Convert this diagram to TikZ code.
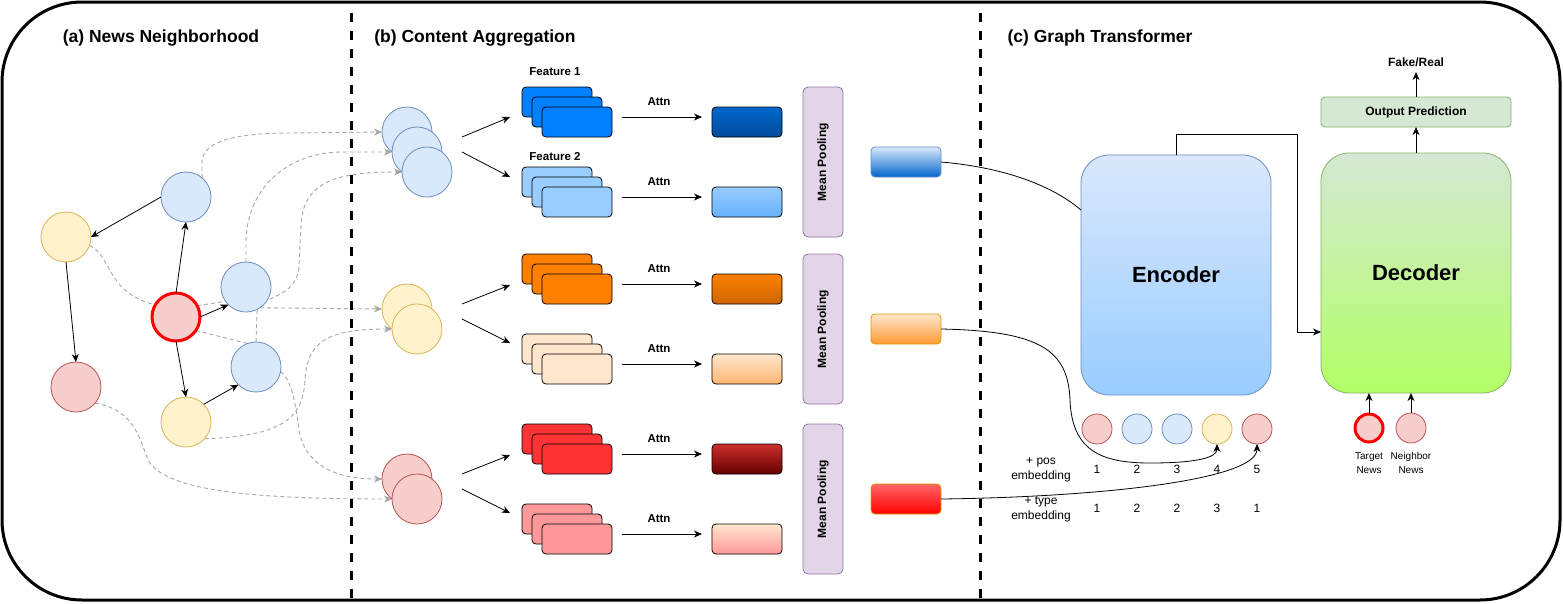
\documentclass[tikz,border=0pt]{standalone}
\usepackage{fontspec}
\setmainfont{Liberation Sans}
\usetikzlibrary{arrows.meta,backgrounds}
\definecolor{bfill}{HTML}{DAE8FC}
\definecolor{bdraw}{HTML}{6C8EBF}
\definecolor{yfill}{HTML}{FFF2CC}
\definecolor{ydraw}{HTML}{D6B656}
\definecolor{rfill}{HTML}{F8CECC}
\definecolor{rdraw}{HTML}{B85450}
\definecolor{pfill}{HTML}{E1D5E7}
\definecolor{pdraw}{HTML}{9673A6}
\definecolor{gfill}{HTML}{D5E8D4}
\definecolor{gdraw}{HTML}{82B366}
\definecolor{dgray}{HTML}{A6A6A6}
\definecolor{sa}{HTML}{007FFF}
\definecolor{sb}{HTML}{99CCFF}
\definecolor{sc}{HTML}{FF8000}
\definecolor{sd}{HTML}{FFE6CC}
\definecolor{se}{HTML}{FF3333}
\definecolor{sf}{HTML}{FF9999}
\definecolor{oat}{HTML}{0066CC}\definecolor{oab}{HTML}{004C99}
\definecolor{obt}{HTML}{99CCFF}\definecolor{obb}{HTML}{66B2FF}
\definecolor{oct}{HTML}{FF8000}\definecolor{ocb}{HTML}{CC6600}
\definecolor{odt}{HTML}{FFE6CC}\definecolor{odb}{HTML}{FFB570}
\definecolor{oet}{HTML}{CC2E2E}\definecolor{oeb}{HTML}{660000}
\definecolor{oft}{HTML}{FFE6CC}\definecolor{ofb}{HTML}{FF9999}
\definecolor{pat}{HTML}{DAE8FC}\definecolor{pab}{HTML}{0066CC}
\definecolor{pbt}{HTML}{FFE6CC}\definecolor{pbb}{HTML}{FF9933}
\definecolor{pct}{HTML}{FF6666}\definecolor{pcb}{HTML}{FF0000}
\definecolor{pbd}{HTML}{D79B00}
\definecolor{enct}{HTML}{DAE8FC}\definecolor{encb}{HTML}{99CCFF}
\definecolor{dect}{HTML}{D5E8D4}\definecolor{decb}{HTML}{B3FF66}
\newcommand{\mkstack}[4]{%
  \node[stackbox, fill=#4] (#1a) at (#2,#3) {};
  \node[stackbox, fill=#4] (#1b) at ([shift={(10,10)}]#1a.center) {};
  \node[stackbox, fill=#4] (#1c) at ([shift={(10,10)}]#1b.center) {};
}
\begin{document}
\begin{tikzpicture}[x=1pt,y=-1pt,
  every node/.style={inner sep=0pt, outer sep=0pt},
  circ/.style={circle, minimum size=50pt, line width=0.8pt},
  bn/.style={circ, fill=bfill, draw=bdraw},
  yn/.style={circ, fill=yfill, draw=ydraw},
  rn/.style={circ, fill=rfill, draw=rdraw},
  tgt/.style={circle, minimum size=48pt, fill=rfill, draw=red, line width=3pt},
  tok/.style={circle, minimum size=30pt, line width=0.8pt},
  arr/.style={-{Stealth[length=8pt,width=7pt,inset=2.5pt]}, line width=0.8pt},
  dsh/.style={draw=dgray, dash pattern=on 4pt off 3pt, line width=0.9pt},
  dsharr/.style={dsh, -{Stealth[length=8pt,width=7pt,inset=2.5pt,fill=dgray]}},
  stackbox/.style={rectangle, rounded corners=4pt, minimum width=70pt, minimum height=30pt, draw=black, line width=0.8pt},
  outbox/.style={rectangle, rounded corners=4pt, minimum width=70pt, minimum height=30pt, draw=black, line width=0.8pt},
  poolbox/.style={rectangle, rounded corners=4pt, minimum width=70pt, minimum height=30pt, line width=0.8pt},
  meanbox/.style={rectangle, rounded corners=5pt, minimum width=150pt, minimum height=40pt, fill=pfill, draw=pdraw, line width=0.8pt, rotate=90, font=\fontsize{12}{14}\selectfont\bfseries},
  title/.style={font=\fontsize{17.5}{21}\selectfont\bfseries},
  lbl/.style={font=\fontsize{11.5}{14}\selectfont\bfseries},
  num/.style={font=\fontsize{12}{15}\selectfont, align=center},
  small/.style={font=\fontsize{10}{14}\selectfont, align=center}
]
\useasboundingbox (0,0) rectangle (1563,603);

% frame and dividers
\draw[line width=3pt, rounded corners=80pt] (2,2) rectangle (1560,600);
\draw[line width=3pt, dash pattern=on 9pt off 9pt] (351,13) -- (351,600);
\draw[line width=3pt, dash pattern=on 9pt off 9pt] (980,13) -- (980,600);

% titles
\node[title] (ta) at (161,38) {(a) News Neighborhood};
\node[title] (tb) at (475,38) {(b) Content Aggregation};
\node[title] (tc) at (1100,38) {(c) Graph Transformer};

% ---------- (a) graph ----------
\node[yn] (A) at (66,237) {};
\node[bn] (B) at (186,197) {};
\node[tgt] (C) at (176,317) {};
\node[bn] (D) at (246,287) {};
\node[bn] (E) at (256,367) {};
\node[rn] (F) at (76,387) {};
\node[yn] (G) at (186,422) {};

% aggregation circles
\node[bn] (B1) at (407,132) {};
\node[bn] (B2) at (417,152) {};
\node[bn] (B3) at (427,172) {};
\node[yn] (Y1) at (407,309) {};
\node[yn] (Y2) at (417,329) {};
\node[rn] (R1) at (407,479) {};
\node[rn] (R2) at (417,499) {};

\begin{scope}[on background layer]
\draw[dsh] (A.-20) .. controls (112,255) and (105,292) .. (C.150);
\draw[dsh] (C.28) -- (D.215);
\draw[dsh] (C.-34) -- (E.110);
\draw[dsharr] (B.50) -- (202,162) .. controls (202,140) and (240,133) .. (290,133) -- (B1.west);
\draw[dsharr] (D.north) -- (246,240) .. controls (248,185) and (290,153) .. (340,152) -- (B2.west);
\draw[dsharr] (E.north) -- (257,312) .. controls (258,295) and (298,300) .. (299,265) -- (301,225) .. controls (303,180) and (340,172) .. (B3.west);
\draw[dsharr] (D.-56) -- (Y1.west);
\draw[dsharr] (G.-42) .. controls (280,436) and (303,420) .. (305,380) .. controls (307,340) and (330,329) .. (Y2.west);
\draw[dsharr] (E.-11) .. controls (293,380) and (296,410) .. (299,430) .. controls (305,465) and (335,479) .. (R1.west);
\draw[dsharr] (F.-40) .. controls (135,410) and (140,440) .. (148,460) .. controls (165,492) and (260,499) .. (R2.west);
\end{scope}

\draw[arr] (B.180) -- (A.0);
\draw[arr] (C.north) -- (B.south);
\draw[arr] (C.east) -- (D.225);
\draw[arr] (C.south) -- (G.north);
\draw[arr] (G.45) -- (E.225);
\draw[arr] (A.south) -- (F.north);

% ---------- (b) content aggregation ----------
\mkstack{Fa}{557}{102}{sa}
\mkstack{Fb}{557}{182}{sb}
\mkstack{Fc}{557}{269}{sc}
\mkstack{Fd}{557}{349}{sd}
\mkstack{Fe}{557}{439}{se}
\mkstack{Ff}{557}{519}{sf}

\node[lbl] (f1) at (555,72) {Feature 1};
\node[lbl] (f2) at (555,157) {Feature 2};

\node[outbox, top color=oat, bottom color=oab] (Oa) at (747,122) {};
\node[outbox, top color=obt, bottom color=obb] (Ob) at (747,202) {};
\node[outbox, top color=oct, bottom color=ocb] (Oc) at (747,289) {};
\node[outbox, top color=odt, bottom color=odb] (Od) at (747,369) {};
\node[outbox, top color=oet, bottom color=oeb] (Oe) at (747,459) {};
\node[outbox, top color=oft, bottom color=ofb] (Of) at (747,539) {};

\foreach \yy/\nm in {117/a,197/b,284/c,364/d,454/e,534/f}{
  \coordinate (as\nm) at (622,\yy);
  \coordinate (ae\nm) at (702,\yy);
  \draw[arr] (as\nm) -- (ae\nm);
  \node[lbl] (at\nm) at (659,\yy-15) {Attn};
}

\foreach \ys/\yt/\yb/\nm in {137/117/177/a, 304/285/343/b, 474/455/513/c}{
  \coordinate (cs\nm) at (462,\ys);
  \coordinate (cu\nm) at (510,\yt);
  \coordinate (cl\nm) at (462,\ys+15);
  \coordinate (cd\nm) at (510,\yb);
  \draw[arr] (cs\nm) -- (cu\nm);
  \draw[arr] (cl\nm) -- (cd\nm);
}

\node[meanbox] (M1) at (823,162) {Mean Pooling};
\node[meanbox] (M2) at (823,329) {Mean Pooling};
\node[meanbox] (M3) at (823,499) {Mean Pooling};

\node[poolbox, top color=pat, bottom color=pab, draw=bdraw] (P1) at (906,162) {};
\node[poolbox, top color=pbt, bottom color=pbb, draw=pbd] (P2) at (906,329) {};
\node[poolbox, top color=pct, bottom color=pcb, draw=pbd] (P3) at (906,499) {};

% ---------- (c) graph transformer ----------
\node[rectangle, rounded corners=28pt, minimum width=190pt, minimum height=240pt,
      top color=enct, bottom color=encb, draw=bdraw, line width=0.8pt,
      font=\fontsize{22}{26}\selectfont\bfseries] (Enc) at (1176,275) {Encoder};
\node[rectangle, rounded corners=28pt, minimum width=190pt, minimum height=240pt,
      top color=dect, bottom color=decb, draw=gdraw, line width=0.8pt,
      font=\fontsize{22}{26}\selectfont\bfseries] (Dec) at (1416,273) {Decoder};
\node[rectangle, rounded corners=4pt, minimum width=190pt, minimum height=30pt,
      fill=gfill, draw=gdraw, line width=0.8pt,
      font=\fontsize{12}{14}\selectfont\bfseries] (OP) at (1416,112) {Output Prediction};
\node[font=\fontsize{12}{14}\selectfont\bfseries] (FR) at (1416,62) {Fake/Real};
\coordinate (frb) at (1416,72);
\draw[arr] (Dec.north) -- (OP.south);
\draw[arr] (OP.north) -- (frb);

\coordinate (ed1) at (1297,134);
\draw[arr] (Enc.north) |- (ed1) -- (1297,332) -- (Dec.west |- 1297,332);

% tokens
\node[tok, fill=rfill, draw=rdraw] (T1) at (1097,429) {};
\node[tok, fill=bfill, draw=bdraw] (T2) at (1137,429) {};
\node[tok, fill=bfill, draw=bdraw] (T3) at (1177,429) {};
\node[tok, fill=yfill, draw=ydraw] (T4) at (1217,429) {};
\node[tok, fill=rfill, draw=rdraw] (T5) at (1257,429) {};

\node[num] (pl) at (1041,469.5) {+ pos\\embedding};
\node[num] (tl) at (1041,509.5) {+ type\\embedding};
\foreach \xx/\a/\b/\k in {1097/1/1/1, 1137/2/2/2, 1177/3/2/3, 1217/4/3/4, 1257/5/1/5}{
  \node[num] (pn\k) at (\xx,469) {\a};
  \node[num] (tn\k) at (\xx,508) {\b};
}

\draw[line width=0.8pt] (P1.east) .. controls (1010,168) and (1055,188) .. (Enc.west |- 1081,210);
\draw[arr] (P2.east) .. controls (1040,331) and (1068,350) .. (1070,400) .. controls (1072,450) and (1100,463) .. (1150,463) .. controls (1195,463) and (1217,458) .. (T4.south);
\draw[arr] (P3.east) .. controls (1100,497) and (1257,480) .. (T5.south);

% decoder inputs
\node[circle, minimum size=28pt, fill=rfill, draw=red, line width=3pt] (TN) at (1369,428) {};
\node[tok, fill=rfill, draw=rdraw] (NN) at (1411,428) {};
\draw[arr] (TN.north) -- (TN.north |- Dec.south);
\draw[arr] (NN.north) -- (NN.north |- Dec.south);
\node[small] (tnl) at (1369,463) {Target\\News};
\node[small] (nnl) at (1411,463) {Neighbor\\News};

\end{tikzpicture}
\end{document}
